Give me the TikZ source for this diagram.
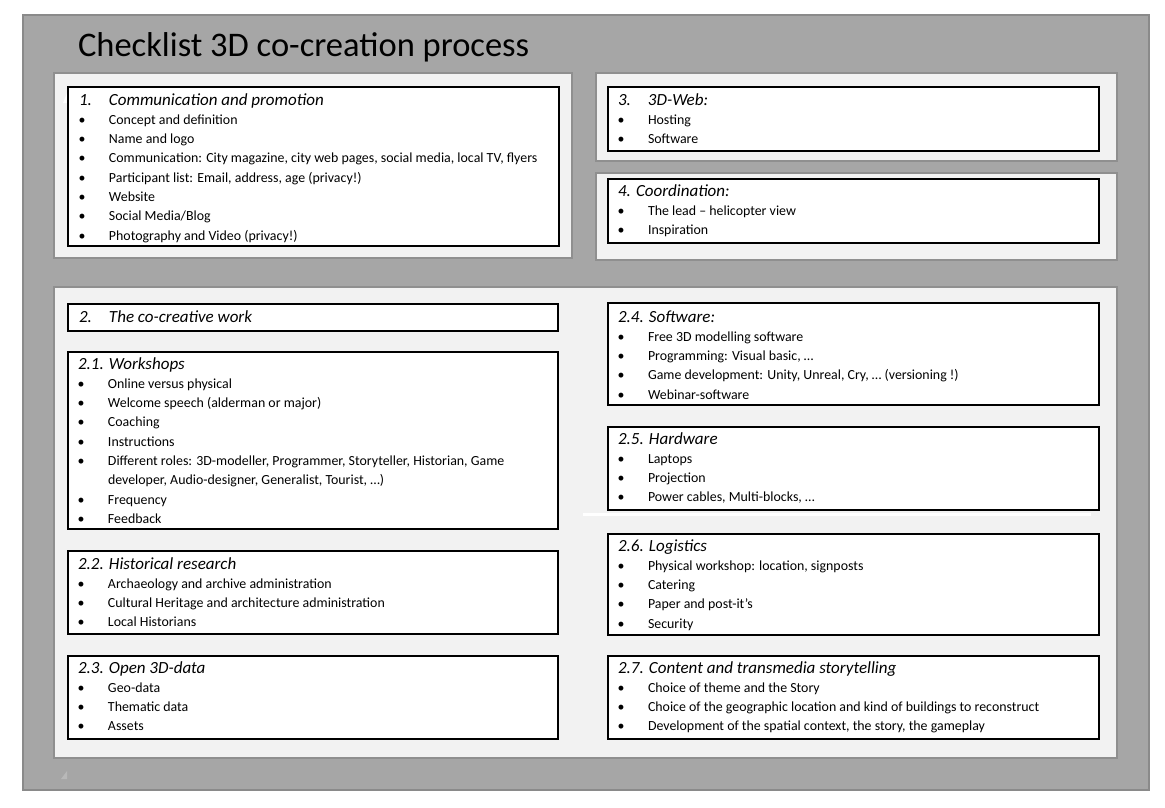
\documentclass[tikz,border=0pt]{standalone}
\usepackage{fontspec}
\setmainfont{Carlito}
\usetikzlibrary{shadows}
\definecolor{outerg}{HTML}{A6A6A6}
\definecolor{outerb}{HTML}{8A8A8A}
\definecolor{panelf}{HTML}{F2F2F2}
\definecolor{panelb}{HTML}{8F8F8F}
\newlength\itmw \setlength\itmw{30pt}
\newcommand\itm[1]{\par\makebox[\itmw][l]{\hspace*{-0.5pt}\textbullet}#1}
\newcommand\cont[1]{\par\hspace*{\itmw}#1}
\newcommand\hdr[1]{{\fontsize{17}{19.3}\selectfont\itshape #1}}
\newcommand\nmb[1]{\makebox[\itmw][l]{#1}}
\newcommand\setupbox{\fontsize{13.9}{19.3}\selectfont\parindent=0pt\raggedright}
\tikzset{
  outerbox/.style={draw=outerb, line width=1.5pt, fill=outerg, anchor=north west, inner sep=0, outer sep=0},
  panel/.style={draw=panelb, line width=1.5pt, fill=panelf, anchor=north west, inner sep=0, outer sep=0},
  inbox/.style={draw=black, line width=1.1pt, fill=white, anchor=north west, inner sep=0, outer sep=0,
    drop shadow={shadow xshift=1.2pt, shadow yshift=-1.2pt, fill=black!55, opacity=1}},
  txt/.style={anchor=base west, inner sep=0, outer sep=0},
}
\begin{document}
\begin{tikzpicture}[x=1pt,y=-1pt]
\useasboundingbox (0,0) rectangle (1165,808);
\node[outerbox, minimum width=1126pt, minimum height=775pt] (bg) at (23,15) {};
\node[txt, font=\fontsize{34.5}{40}\selectfont] (title) at (78,57) {Checklist 3D co-creation process};
% panels
\node[panel, minimum width=518pt, minimum height=185pt] (p1) at (54,73) {};
\node[panel, minimum width=521pt, minimum height=88pt] (p3) at (596,73) {};
\node[panel, minimum width=521pt, minimum height=87pt] (p4) at (596,173) {};
\node[panel, minimum width=1063pt, minimum height=471pt] (p2) at (54,287) {};
\fill[white] (583,513) rectangle (1091,516);
\fill[white] (63,103) -- (67,103) -- (67,93) -- cycle;
\fill[black!28] (61,779) -- (67,779) -- (67,771) -- cycle;
% boxes
\node[inbox, minimum width=491pt, minimum height=159pt] (b1) at (68,87) {};
\node[inbox, minimum width=491pt, minimum height=64pt] (b3) at (608,87) {};
\node[inbox, minimum width=491pt, minimum height=64pt] (b4) at (608,179) {};
\node[inbox, minimum width=490pt, minimum height=27pt] (b2) at (68,304) {};
\node[inbox, minimum width=490pt, minimum height=177pt] (b21) at (68,352) {};
\node[inbox, minimum width=490pt, minimum height=83pt] (b22) at (68,551) {};
\node[inbox, minimum width=490pt, minimum height=83pt] (b23) at (68,656) {};
\node[inbox, minimum width=491pt, minimum height=102pt] (b24) at (608,303) {};
\node[inbox, minimum width=491pt, minimum height=83pt] (b25) at (608,427) {};
\node[inbox, minimum width=491pt, minimum height=101pt] (b26) at (608,534) {};
\node[inbox, minimum width=491pt, minimum height=83pt] (b27) at (608,656) {};
% texts
\node[txt] (t1) at (79,105) {\parbox[t]{470pt}{\setupbox
  \hdr{\nmb{1.}Communication and promotion}
  \itm{Concept and definition}
  \itm{Name and logo}
  \itm{Communication: City magazine, city web pages, social media, local TV, flyers}
  \itm{Participant list: Email, address, age (privacy!)}
  \itm{Website}
  \itm{Social Media/Blog}
  \itm{Photography and Video (privacy!)}}};
\node[txt] (t3) at (618,105) {\parbox[t]{470pt}{\setupbox
  \hdr{\nmb{3.}3D-Web:}
  \itm{Hosting}
  \itm{Software}}};
\node[txt] (t4) at (618,196) {\parbox[t]{470pt}{\setupbox
  \hdr{4. Coordination:}
  \itm{The lead – helicopter view}
  \itm{Inspiration}}};
\node[txt] (t2) at (79,322) {\parbox[t]{470pt}{\setupbox
  \hdr{\nmb{2.}The co-creative work}}};
\node[txt] (t21) at (78,369) {\parbox[t]{470pt}{\setupbox
  \hdr{2.1. Workshops}
  \itm{Online versus physical}
  \itm{Welcome speech (alderman or major)}
  \itm{Coaching}
  \itm{Instructions}
  \itm{Different roles: 3D-modeller, Programmer, Storyteller, Historian, Game}
  \cont{developer, Audio-designer, Generalist, Tourist, …)}
  \itm{Frequency}
  \itm{Feedback}}};
\node[txt] (t22) at (78,569) {\parbox[t]{470pt}{\setupbox
  \hdr{2.2. Historical research}
  \itm{Archaeology and archive administration}
  \itm{Cultural Heritage and architecture administration}
  \itm{Local Historians}}};
\node[txt] (t23) at (78,673) {\parbox[t]{470pt}{\setupbox
  \hdr{2.3. Open 3D-data}
  \itm{Geo-data}
  \itm{Thematic data}
  \itm{Assets}}};
\node[txt] (t24) at (618,322) {\parbox[t]{470pt}{\setupbox
  \hdr{2.4. Software:}
  \itm{Free 3D modelling software}
  \itm{Programming: Visual basic, …}
  \itm{Game development: Unity, Unreal, Cry, … (versioning !)}
  \itm{Webinar-software}}};
\node[txt] (t25) at (618,444) {\parbox[t]{470pt}{\setupbox
  \hdr{2.5. Hardware}
  \itm{Laptops}
  \itm{Projection}
  \itm{Power cables, Multi-blocks, …}}};
\node[txt] (t26) at (618,551) {\parbox[t]{470pt}{\setupbox
  \hdr{2.6. Logistics}
  \itm{Physical workshop: location, signposts}
  \itm{Catering}
  \itm{Paper and post-it’s}
  \itm{Security}}};
\node[txt] (t27) at (618,673) {\parbox[t]{470pt}{\setupbox
  \hdr{2.7. Content and transmedia storytelling}
  \itm{Choice of theme and the Story}
  \itm{Choice of the geographic location and kind of buildings to reconstruct}
  \itm{Development of the spatial context, the story, the gameplay}}};
\end{tikzpicture}
\end{document}
